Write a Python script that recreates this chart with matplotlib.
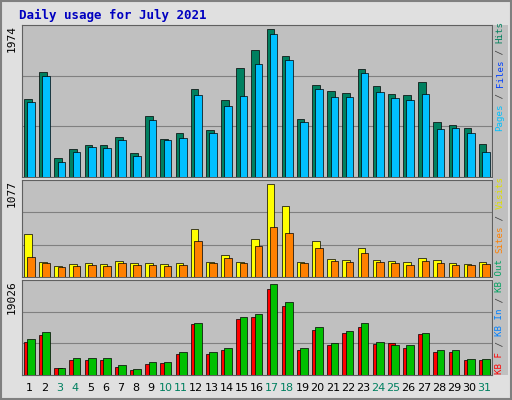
import matplotlib
matplotlib.use("Agg")
import matplotlib.pyplot as plt
import matplotlib.transforms as mtrans
import numpy as np

days = list(range(1, 32))
weekend = [3, 4, 10, 11, 17, 18, 24, 25, 31]
hits = [1041,1401,253,374,427,427,534,320,814,507,587,1174,627,1027,1454,1694,1974,1614,774,1227,1147,1121,1441,1214,1107,1094,1267,734,694,654,440]
files = [1000,1347,200,334,400,387,494,280,760,494,520,1094,587,947,1081,1507,1908,1561,734,1174,1067,1067,1387,1134,1054,1027,1107,640,654,587,334]
visits = [498,174,127,151,162,151,185,162,162,151,162,556,174,255,174,440,1077,822,174,417,208,197,336,197,185,174,220,197,162,151,174]
sites = [232,162,116,127,139,127,162,139,139,127,139,417,162,220,162,359,579,510,162,336,185,174,278,174,162,139,185,162,139,139,151]
kb_f = [6976,8456,1480,3171,3171,3171,1691,1057,2325,2537,4439,10570,4439,5285,11627,12050,17969,14375,5285,9513,6342,8879,9936,6553,6765,5708,8667,4862,4862,3171,3171]
kb_in = [7610,9090,1480,3594,3594,3594,2114,1268,2748,2748,4862,10781,4862,5708,12050,12684,19026,15221,5708,9936,6765,9302,10781,6976,6342,6342,8879,5285,5285,3382,3382]

mono = "DejaVu Sans Mono"
fig = plt.figure(figsize=(5.12, 4.0), dpi=100, facecolor="#E0E0E0")
fig.add_artist(plt.Rectangle((0.002, 0.002), 0.996, 0.996, transform=fig.transFigure,
                             fill=False, edgecolor="#808080", lw=1.5))
fig.add_artist(plt.Rectangle((0.963, 0.0625), 0.03, 0.875, transform=fig.transFigure,
                             facecolor="#C0C0C0", edgecolor="none"))
fig.text(0.037, 0.962, "Daily usage for July 2021", color="#0000C0", fontsize=9,
         fontweight="bold", family=mono, va="center")

x = np.array(days)
panels = [
    ([0.043, 0.5575, 0.918, 0.38], hits, files, "#008060", "#00C0FF", 1974),
    ([0.043, 0.3075, 0.918, 0.2425], visits, sites, "#FFFF00", "#FF8000", 1077),
    ([0.043, 0.0625, 0.918, 0.2375], kb_f, kb_in, "#FF0000", "#00C000", 19026),
]
for rect, a, b, ca, cb, mx in panels:
    ax = fig.add_axes(rect)
    ax.set_facecolor("#C0C0C0")
    top = mx * rect[3] * 400 / (rect[3] * 400 - 4)
    ax.set_ylim(0, top)
    ax.set_xlim(0.5, 31.5)
    for f in (1/3, 2/3):
        ax.axhline(top * f, color="#808080", lw=0.8, zorder=0)
    ax.bar(x - 0.12, a, width=0.5, color=ca, edgecolor="black", lw=0.5, zorder=2)
    ax.bar(x + 0.1, b, width=0.5, color=cb, edgecolor="black", lw=0.5, zorder=3)
    ax.set_xticks([]); ax.set_yticks([])
    for s in ax.spines.values():
        s.set_color("#606060")
    ax.text(-0.012, 1.0, str(mx), transform=ax.transAxes, rotation=90, ha="right",
            va="top", fontsize=8, family=mono)

fs = 6.6
cw = 0.6 * fs  # char advance in points
def side_label(segs, bottom_px):
    off = 0.0
    for t, c in segs:
        tr = mtrans.offset_copy(fig.transFigure, fig=fig, x=0, y=off, units="points")
        fig.text(500 / 512, 1 - bottom_px / 400, t, transform=tr, rotation=90,
                 ha="center", va="bottom", fontsize=fs, family=mono, color=c)
        off += len(t) * cw

side_label([("Pages", "#00C0FF"), (" / ", "#404040"), ("Files", "#0040FF"),
            (" / ", "#404040"), ("Hits", "#00805C")], 131)
side_label([("KB F", "#FF0000"), (" / ", "#404040"), ("KB In", "#0080FF"),
            (" / ", "#404040"), ("KB Out", "#00A060"), (" ", "#404040"),
            ("Sites", "#FF8000"), (" / ", "#404040"), ("Visits", "#E0E000")], 374)

for d in days:
    fx = 0.043 + 0.918 * (d - 0.5) / 31
    fig.text(fx, 0.03, str(d), ha="center", va="center", fontsize=8,
             color="#008060" if d in weekend else "black")

fig.savefig("out.png", dpi=100, facecolor=fig.get_facecolor())
